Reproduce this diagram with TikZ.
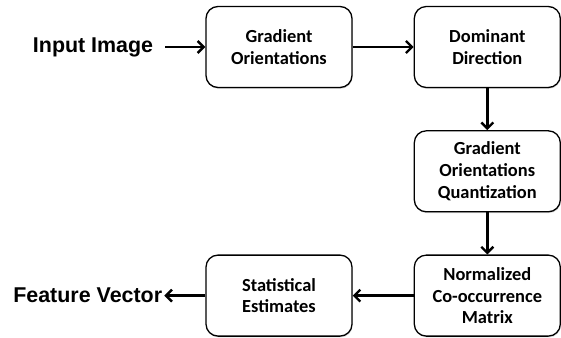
\documentclass[tikz,border=0pt]{standalone}
\usepackage{fontspec}
\setmainfont{Carlito}
\newfontfamily\labelfont{Liberation Sans}
\usetikzlibrary{arrows.meta,positioning,shadows}

\begin{document}
\begin{tikzpicture}[node distance=42bp and 61bp,font=\bfseries\fontsize{18.5}{22}\selectfont]
\tikzset{
    %Define standard arrow tip
    >={Straight Barb[length=6bp,width=12bp]},
    %Define style for boxes
    stage/.style={
           rectangle,
           rounded corners=12bp,
           draw=black, line width=1.3bp,
           fill=white,
           drop shadow={opacity=0.3,shadow xshift=0.6bp,shadow yshift=-1.3bp},
           align=center,
           minimum width=146bp,
           minimum height=81bp,
           inner sep=0pt},
    %Define style for the outer labels
    ends/.style={
           font=\labelfont\bfseries\fontsize{21.5}{25}\selectfont,
           inner sep=0pt},
    % Define arrow style
    pil/.style={
           ->,
           line width=2.4bp}
}
	\path[use as bounding box] (0,0) rectangle (561bp,-338bp);

 %nodes
	\node[stage] (grad) at (279bp,-47bp) {Gradient\\Orientations};
	\node[stage,right=of grad] (dom) {Dominant\\Direction};
	\node[stage,below=of dom] (quant) {Gradient\\Orientations\\Quantization};
	\node[stage,below=of quant] (norm) {Normalized\\Co-occurrence\\Matrix};
	\node[stage,left=of norm] (stat) {Statistical\\Estimates};

	\node[ends,left=52bp of grad] (input) {Input Image};
	\node[ends,left=43bp of stat] (feat) {Feature Vector};

	\path (input.east) edge[pil,shorten <=12bp] (grad.west);
	\path (grad.east) edge[pil] (dom.west);
	\path (dom.south) edge[pil] (quant.north);
	\path (quant.south) edge[pil] (norm.north);
	\path (norm.west) edge[pil] (stat.east);
	\path (stat.west) edge[pil,shorten >=2bp] (feat.east);

\end{tikzpicture}
\end{document}
